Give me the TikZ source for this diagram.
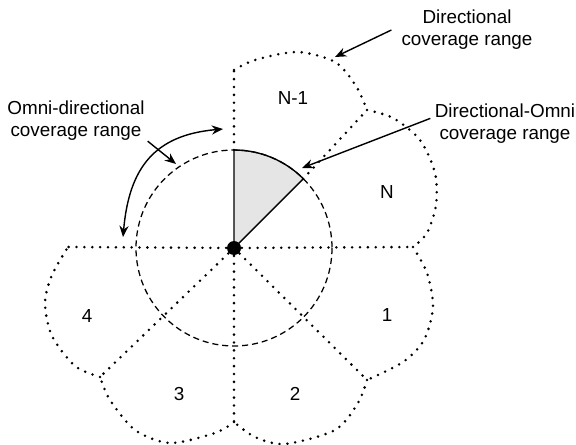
\documentclass[tikz,border=0pt]{standalone}
\usepackage{fontspec}
\setmainfont{Liberation Sans}
\usetikzlibrary{arrows.meta}

\begin{document}
\begin{tikzpicture}[x=0.025cm, y=-0.025cm,
  lbl/.style={font=\fontsize{13.4}{15.8}\selectfont, align=center, inner sep=0pt},
  edge/.style={line width=2pt, dash pattern=on 0pt off 5.6pt, line cap=round},
  omni/.style={line width=0.9pt, dash pattern=on 4.3pt off 2.8pt},
  arr/.style={-{Stealth[length=8pt,width=6.5pt]}, line width=1pt}]
\useasboundingbox (0,0) rectangle (576,445);
% centre and ends of the sector edges
\coordinate (C) at (234,248);
\coordinate (U) at (234,70);
\coordinate (UR) at (367,110);
\coordinate (R) at (413,247);
\coordinate (DR) at (367,380);
\coordinate (D) at (234,422);
\coordinate (DL) at (100,377);
\coordinate (L) at (68,247);
\coordinate (Uin) at (234,150);
\coordinate (URin) at (303,179);
% shaded directional-omni sector
\fill[gray!20] (C) -- (Uin) arc[start angle=-90, end angle=-45, radius=98] -- cycle;
% sector edges
\foreach \p in {R,DR,D,DL,L}
  \draw[edge] (C) -- (\p);
\draw[edge] (Uin) -- (U);
\draw[edge] (URin) -- (UR);
% directional lobes
\draw[edge] plot[smooth] coordinates {(U) (255,60) (297,52) (335,62) (356,86) (UR)};
\draw[edge] plot[smooth] coordinates {(UR) (393,118) (420,140) (435,173) (436,205) (427,233) (R)};
\draw[edge] plot[smooth] coordinates {(R) (427,273) (433,307) (424,340) (403,362) (DR)};
\draw[edge] plot[smooth] coordinates {(DR) (358,403) (335,430) (285,444) (255,437) (D)};
\draw[edge] plot[smooth] coordinates {(D) (215,433) (170,443) (135,430) (110,400) (DL)};
\draw[edge] plot[smooth] coordinates {(DL) (75,366) (52,336) (45,303) (52,275) (L)};
% omni-directional range
\draw[omni] (C) circle (98);
\draw[line width=1pt] (C) -- (Uin) arc[start angle=-90, end angle=-45, radius=98] -- cycle;
\fill (C) circle (7);
% sector numbers
\node[lbl] (sNm1) at (293,98) {N-1};
\node[lbl] (sN) at (387,192) {N};
\node[lbl] (s1) at (387,315) {1};
\node[lbl] (s2) at (295,394) {2};
\node[lbl] (s3) at (179,394) {3};
\node[lbl] (s4) at (87,316) {4};
% labels and arrows
\node[lbl] (dirlbl) at (467,30) {Directional\\coverage range};
\node[lbl] (dolbl) at (505,124) {Directional-Omni\\coverage range};
\node[lbl] (omnilbl) at (76,121) {Omni-directional\\coverage range};
\coordinate (dirtip) at (335,57);
\coordinate (dotip) at (302,168);
\coordinate (omnitip) at (176,164);
\coordinate (omnia) at (223,129);
\coordinate (omnib) at (123,237);
\draw[arr] ([xshift=-7pt]dirlbl.west) -- (dirtip);
\draw[arr] ([xshift=-3pt,yshift=4pt]dolbl.west) -- (dotip);
\draw[arr] ([xshift=2pt]omnilbl.south east) -- (omnitip);
\draw[arr, {Stealth[length=8pt,width=6.5pt]}-{Stealth[length=8pt,width=6.5pt]}]
  (omnia) to[out=185, in=85, looseness=1.2] (omnib);
\end{tikzpicture}
\end{document}
